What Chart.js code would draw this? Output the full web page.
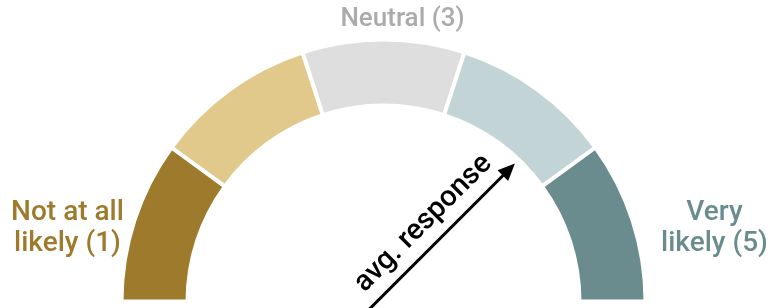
<!DOCTYPE html>
<html>
<head>
<meta charset="utf-8">
<script src="https://cdn.jsdelivr.net/npm/chart.js@4.4.1/dist/chart.umd.min.js"></script>
<style>
  html, body { margin: 0; padding: 0; background: #fff; }
  #wrap { width: 780px; height: 308px; }
</style>
</head>
<body>
<div id="wrap"><canvas id="gauge" width="780" height="308"></canvas></div>
<script>
// scale categories (1..5), each takes an equal slice of the half ring
const categories = ["Not at all likely (1)", "2", "Neutral (3)", "4", "Very likely (5)"];
const sliceValues = [1, 1, 1, 1, 1];
const sliceColors = ["#9E7B2C", "#E0C98A", "#DEDEDE", "#C3D4D6", "#6A8C8E"];
const scaleMin = 1;
const scaleMax = 5;
const avgResponse = 4.0;

// text around the gauge
const leftLabel = ["Not at all", "likely (1)"];
const topLabel = ["Neutral (3)"];
const rightLabel = ["Very", "likely (5)"];
const arrowLabel = "avg. response";

const FONT = "Roboto, 'Noto Sans', sans-serif";

const gaugeText = {
  id: "gaugeText",
  afterDraw(chart) {
    const arc = chart.getDatasetMeta(0).data[0];
    const cx = arc.x, cy = arc.y;
    const ctx = chart.ctx;
    ctx.save();
    ctx.textAlign = "center";
    ctx.textBaseline = "alphabetic";

    // left / right end labels
    ctx.font = "500 28px " + FONT;
    ctx.fillStyle = sliceColors[0];
    leftLabel.forEach((t, i) => ctx.fillText(t, cx - 316, cy - 82 + i * 31));
    ctx.fillStyle = sliceColors[4];
    rightLabel.forEach((t, i) => ctx.fillText(t, cx + 331, cy - 82 + i * 31));
    // top
    ctx.font = "500 26px " + FONT;
    ctx.fillStyle = "#ABABAB";
    topLabel.forEach((t, i) => ctx.fillText(t, cx + 19, cy - 276 + i * 31));

    // arrow for the average response
    const ang = Math.PI - (avgResponse - scaleMin) / (scaleMax - scaleMin) * Math.PI;
    const ux = Math.cos(ang), uy = -Math.sin(ang);
    const ox = cx - 6.5, oy = cy;
    const tail = -20, tip = 195, head = 17, halfW = 7.5;
    ctx.strokeStyle = "#000";
    ctx.fillStyle = "#000";
    ctx.lineWidth = 3;
    ctx.beginPath();
    ctx.moveTo(ox + ux * tail, oy + uy * tail);
    ctx.lineTo(ox + ux * (tip - head + 2), oy + uy * (tip - head + 2));
    ctx.stroke();
    const bx = ox + ux * (tip - head), by = oy + uy * (tip - head);
    ctx.beginPath();
    ctx.moveTo(ox + ux * tip, oy + uy * tip);
    ctx.lineTo(bx - uy * halfW, by + ux * halfW);
    ctx.lineTo(bx + uy * halfW, by - ux * halfW);
    ctx.closePath();
    ctx.fill();

    // label along the arrow
    ctx.translate(ox + ux * 88, oy + uy * 88);
    ctx.rotate(-ang);
    ctx.font = "500 29px " + FONT;
    ctx.fillText(arrowLabel, 0, -15);
    ctx.restore();
  }
};

new Chart(document.getElementById("gauge"), {
  type: "doughnut",
  data: {
    labels: categories,
    datasets: [{
      data: sliceValues,
      backgroundColor: sliceColors,
      borderColor: "#ffffff",
      borderWidth: 4,
      hoverOffset: 0
    }]
  },
  options: {
    responsive: false,
    animation: false,
    rotation: -90,
    circumference: 180,
    radius: 262,
    cutout: "74.8%",
    layout: { padding: { left: 0, right: 13, top: 33, bottom: 0 } },
    plugins: {
      legend: { display: false },
      tooltip: { enabled: false }
    }
  },
  plugins: [gaugeText]
});
</script>
</body>
</html>
